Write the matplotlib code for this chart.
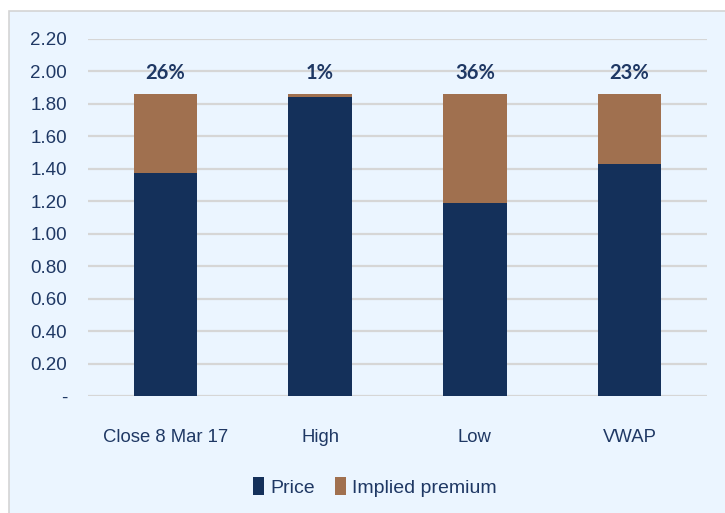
import matplotlib.pyplot as plt
from matplotlib.patches import Rectangle

# Price vs implied offer premium per reference point
categories = ["Close 8 Mar 17", "High", "Low", "VWAP"]
offer_price = 1.86
premium_pct = [26, 1, 36, 23]
price = [offer_price * (1 - p / 100) for p in premium_pct]
premium = [offer_price - p for p in price]
yticks = [0, 0.2, 0.4, 0.6, 0.8, 1.0, 1.2, 1.4, 1.6, 1.8, 2.0, 2.2]

navy = "#14305A"
brown = "#A0704F"
text_col = "#1F3864"
bg = "#EBF5FF"

fig = plt.figure(figsize=(7.25, 5.13), dpi=100, facecolor="white")

# light blue chart panel
fig.patches.append(Rectangle((9 / 725, -0.01), 1.0, (513 - 11) / 513 + 0.01,
                             transform=fig.transFigure, facecolor=bg,
                             edgecolor="#D4D4D4", linewidth=1.2, zorder=-5))

ax = fig.add_axes([88 / 725, (513 - 396) / 513, (707 - 88) / 725, (396 - 39) / 513])
ax.set_facecolor("none")

x = range(len(categories))
ax.bar(x, price, width=0.41, color=navy, label="Price", zorder=3)
ax.bar(x, premium, width=0.41, bottom=price, color=brown,
       label="Implied premium", zorder=3)

for i, p in enumerate(premium_pct):
    ax.text(i, offer_price + 0.13, f"{p}%", ha="center", va="center",
            fontsize=14.5, fontweight="bold", family="Lato", color=text_col)

ax.set_xlim(-0.5, 3.5)
ax.set_ylim(0, 2.2)
ax.set_yticks(yticks)
ax.set_yticklabels(["-"] + [f"{v:.2f}" for v in yticks[1:]])
ax.set_xticks(list(x))
ax.set_xticklabels(categories)
ax.grid(axis="y", color="#D6D6D6", linewidth=1.6, zorder=1)
ax.tick_params(axis="y", length=0, pad=15, labelsize=13.5, labelcolor=text_col)
ax.tick_params(axis="x", length=0, pad=24, labelsize=13.3, labelcolor=text_col)
for lbl in ax.get_xticklabels() + ax.get_yticklabels():
    lbl.set_family("Liberation Sans")
for s in ax.spines.values():
    s.set_visible(False)

fig.legend(loc="center", bbox_to_anchor=(0.517, 0.051), ncol=2, frameon=False,
           handlelength=0.55, handleheight=1.0, handletextpad=0.3, columnspacing=1.05,
           prop={"family": "Liberation Sans", "size": 14}, labelcolor=text_col)

fig.savefig("out.png", dpi=100, facecolor="white")
